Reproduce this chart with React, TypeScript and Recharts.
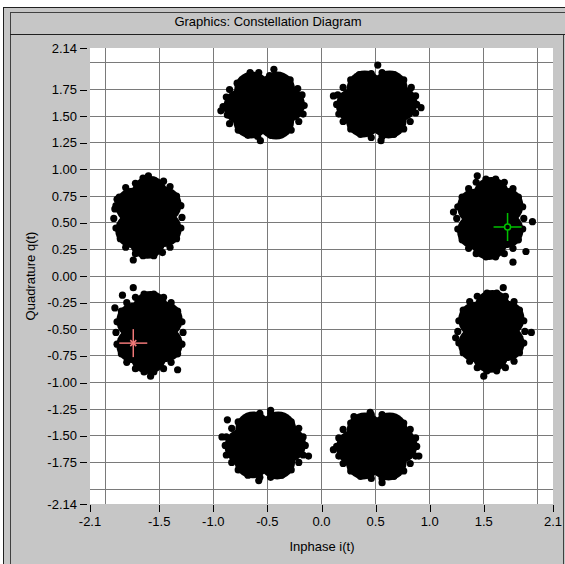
import React from 'react';
import { ScatterChart, Scatter, XAxis, YAxis, CartesianGrid } from 'recharts';

type Pt = [number, number];

// each blob = a few fat "core" points filling the dense middle + loose rim dots (i, q)
const coreTL: Pt[] = [[-0.53, 1.6], [-0.32, 1.61], [-0.41, 1.75], [-0.64, 1.75], [-0.74, 1.59], [-0.65, 1.46], [-0.42, 1.45]];
const rimTL: Pt[] = [
  [-0.16, 1.6], [-0.18, 1.7], [-0.22, 1.76], [-0.29, 1.84], [-0.37, 1.87], [-0.48, 1.88], [-0.58, 1.91], [-0.69, 1.87],
  [-0.78, 1.81], [-0.85, 1.75], [-0.88, 1.68], [-0.91, 1.59], [-0.87, 1.51], [-0.85, 1.43], [-0.77, 1.37], [-0.68, 1.32],
  [-0.59, 1.31], [-0.47, 1.32], [-0.38, 1.33], [-0.28, 1.37], [-0.21, 1.45], [-0.17, 1.52],
  [-0.44, 1.94], [-0.565, 1.27], [-0.93, 1.55], [-0.66, 1.91],
];

const coreTR: Pt[] = [[0.51, 1.61], [0.72, 1.62], [0.63, 1.76], [0.4, 1.76], [0.3, 1.6], [0.39, 1.47], [0.62, 1.46]];
const rimTR: Pt[] = [
  [0.88, 1.61], [0.87, 1.69], [0.83, 1.77], [0.76, 1.84], [0.67, 1.89], [0.56, 1.91], [0.46, 1.9], [0.35, 1.89],
  [0.27, 1.84], [0.2, 1.77], [0.15, 1.7], [0.14, 1.61], [0.16, 1.52], [0.2, 1.45], [0.27, 1.38], [0.36, 1.33],
  [0.46, 1.3], [0.56, 1.31], [0.67, 1.33], [0.76, 1.38], [0.82, 1.45], [0.87, 1.53],
  [0.52, 1.98], [0.11, 1.69], [0.55, 1.27], [0.92, 1.58],
];

const coreLU: Pt[] = [[-1.6, 0.55], [-1.59, 0.77], [-1.46, 0.67], [-1.46, 0.44], [-1.61, 0.33], [-1.74, 0.43], [-1.74, 0.66]];
const rimLU: Pt[] = [
  [-1.29, 0.55], [-1.3, 0.66], [-1.34, 0.75], [-1.4, 0.84], [-1.46, 0.89], [-1.55, 0.9], [-1.65, 0.92], [-1.72, 0.87],
  [-1.81, 0.83], [-1.87, 0.74], [-1.9, 0.66], [-1.92, 0.54], [-1.9, 0.45], [-1.86, 0.35], [-1.81, 0.27], [-1.72, 0.21],
  [-1.65, 0.19], [-1.55, 0.19], [-1.47, 0.22], [-1.4, 0.27], [-1.34, 0.35], [-1.3, 0.45],
  [-1.89, 0.72], [-1.91, 0.63], [-1.6, 0.94], [-1.74, 0.15],
];

const coreLL: Pt[] = [[-1.59, -0.53], [-1.58, -0.31], [-1.45, -0.41], [-1.45, -0.64], [-1.6, -0.75], [-1.73, -0.65], [-1.73, -0.42]];
const rimLL: Pt[] = [
  [-1.28, -0.53], [-1.29, -0.43], [-1.33, -0.33], [-1.39, -0.25], [-1.46, -0.2], [-1.55, -0.17], [-1.64, -0.17], [-1.72, -0.2],
  [-1.8, -0.25], [-1.85, -0.33], [-1.89, -0.43], [-1.9, -0.53], [-1.89, -0.64], [-1.85, -0.73], [-1.8, -0.81], [-1.72, -0.87],
  [-1.64, -0.9], [-1.55, -0.9], [-1.46, -0.87], [-1.39, -0.81], [-1.33, -0.73], [-1.29, -0.64],
  [-1.84, -0.18], [-1.91, -0.3], [-1.33, -0.88], [-1.58, -0.94], [-1.74, -0.11],
];

const coreRU: Pt[] = [[1.56, 0.54], [1.57, 0.76], [1.7, 0.66], [1.7, 0.43], [1.55, 0.32], [1.42, 0.42], [1.42, 0.65]];
const rimRU: Pt[] = [
  [1.87, 0.54], [1.86, 0.65], [1.82, 0.74], [1.77, 0.82], [1.69, 0.88], [1.61, 0.91], [1.52, 0.91], [1.43, 0.88],
  [1.36, 0.82], [1.3, 0.74], [1.26, 0.65], [1.25, 0.54], [1.26, 0.44], [1.3, 0.34], [1.36, 0.26], [1.43, 0.21],
  [1.52, 0.18], [1.61, 0.18], [1.69, 0.21], [1.77, 0.26], [1.82, 0.34], [1.86, 0.44],
  [1.22, 0.6], [1.89, 0.23], [1.77, 0.13], [1.95, 0.51], [1.44, 0.94],
];

const coreRL: Pt[] = [[1.57, -0.52], [1.58, -0.3], [1.71, -0.4], [1.71, -0.63], [1.56, -0.74], [1.43, -0.64], [1.43, -0.41]];
const rimRL: Pt[] = [
  [1.88, -0.52], [1.87, -0.42], [1.83, -0.32], [1.78, -0.24], [1.7, -0.19], [1.62, -0.16], [1.53, -0.16], [1.44, -0.19],
  [1.37, -0.24], [1.31, -0.32], [1.27, -0.42], [1.26, -0.52], [1.27, -0.63], [1.31, -0.72], [1.37, -0.8], [1.44, -0.86],
  [1.53, -0.89], [1.62, -0.89], [1.7, -0.86], [1.78, -0.8], [1.83, -0.72], [1.87, -0.63],
  [1.24, -0.58], [1.94, -0.53], [1.5, -0.94], [1.68, -0.11],
];

const coreBL: Pt[] = [[-0.52, -1.59], [-0.31, -1.58], [-0.4, -1.44], [-0.63, -1.44], [-0.73, -1.6], [-0.64, -1.73], [-0.41, -1.74]];
const rimBL: Pt[] = [
  [-0.15, -1.59], [-0.17, -1.51], [-0.21, -1.43], [-0.28, -1.37], [-0.37, -1.32], [-0.47, -1.29], [-0.57, -1.29], [-0.68, -1.32],
  [-0.77, -1.37], [-0.83, -1.43], [-0.88, -1.51], [-0.89, -1.59], [-0.88, -1.68], [-0.83, -1.75], [-0.77, -1.82], [-0.68, -1.87],
  [-0.57, -1.89], [-0.47, -1.89], [-0.37, -1.87], [-0.28, -1.82], [-0.21, -1.75], [-0.17, -1.68],
  [-0.87, -1.35], [-0.92, -1.51], [-0.12, -1.69], [-0.47, -1.26], [-0.58, -1.92],
];

const coreBR: Pt[] = [[0.51, -1.6], [0.72, -1.59], [0.63, -1.45], [0.4, -1.45], [0.3, -1.61], [0.39, -1.74], [0.62, -1.75]];
const rimBR: Pt[] = [
  [0.88, -1.6], [0.87, -1.52], [0.82, -1.44], [0.76, -1.38], [0.67, -1.33], [0.56, -1.3], [0.46, -1.3], [0.36, -1.33],
  [0.27, -1.38], [0.2, -1.44], [0.16, -1.52], [0.14, -1.6], [0.16, -1.69], [0.2, -1.76], [0.27, -1.83], [0.36, -1.88],
  [0.46, -1.9], [0.56, -1.9], [0.67, -1.88], [0.76, -1.83], [0.82, -1.76], [0.87, -1.69],
  [0.11, -1.63], [0.56, -1.94], [0.9, -1.69], [0.3, -1.32], [0.45, -1.28],
];

// the two cursors
const cursorRed: Pt[] = [[-1.74, -0.63]];
const cursorGreen: Pt[] = [[1.72, 0.46]];

const X_TICKS = [-2.14, -1.5, -1, -0.5, 0, 0.5, 1, 1.5, 2.14];
const Y_TICKS = [-2.14, -1.75, -1.5, -1.25, -1, -0.75, -0.5, -0.25, 0, 0.25, 0.5, 0.75, 1, 1.25, 1.5, 1.75, 2.14];
const GRID_I = [-2, -1.5, -1, -0.5, 0, 0.5, 1, 1.5, 2];
const GRID_Q = [-2, -1.75, -1.5, -1.25, -1, -0.75, -0.5, -0.25, 0, 0.25, 0.5, 0.75, 1, 1.25, 1.5, 1.75, 2];

const FONT = '"Liberation Sans", Arial, sans-serif';
const GRAY = '#c6c6c6';

const toPts = (arr: Pt[]) => arr.map(([i, q]) => ({ i, q }));
const coreData = toPts([...coreTL, ...coreTR, ...coreLU, ...coreLL, ...coreRU, ...coreRL, ...coreBL, ...coreBR]);
const rimData = toPts([...rimTL, ...rimTR, ...rimLU, ...rimLL, ...rimRU, ...rimRL, ...rimBL, ...rimBR]);

const XTick = ({ x, y, payload }: any) => (
  <g>
    <line x1={Math.round(x) + 0.5} x2={Math.round(x) + 0.5} y1={y + 1} y2={y + 8} stroke="#000" />
    <text x={x} y={y + 22} textAnchor="middle" fontSize={13} fontFamily={FONT} fill="#000">
      {Number(payload.value).toFixed(1)}
    </text>
  </g>
);

const YTick = ({ x, y, payload }: any) => (
  <g>
    <line x1={x - 10} x2={x - 3} y1={Math.round(y) + 0.5} y2={Math.round(y) + 0.5} stroke="#000" />
    <text x={x - 13} y={y + 4.5} textAnchor="end" fontSize={13} fontFamily={FONT} fill="#000">
      {Number(payload.value).toFixed(2)}
    </text>
  </g>
);

const dot = (r: number) => (p: any) => <circle cx={p.cx} cy={p.cy} r={r} fill="#000" />;

const RedCursor = (p: any) => {
  const { cx, cy } = p;
  const c = '#f07878';
  return (
    <g stroke={c} strokeWidth={1.5}>
      <line x1={cx - 14} x2={cx + 14} y1={cy} y2={cy} />
      <line x1={cx} x2={cx} y1={cy - 14} y2={cy + 14} />
      <line x1={cx - 3} x2={cx + 3} y1={cy - 3} y2={cy + 3} />
      <line x1={cx - 3} x2={cx + 3} y1={cy + 3} y2={cy - 3} />
    </g>
  );
};

const GreenCursor = (p: any) => {
  const { cx, cy } = p;
  const c = '#00c000';
  return (
    <g stroke={c} strokeWidth={1.5} fill="none">
      <circle cx={cx} cy={cy} r={3} />
      <line x1={cx - 14} x2={cx - 3} y1={cy} y2={cy} />
      <line x1={cx + 3} x2={cx + 14} y1={cy} y2={cy} />
      <line x1={cx} x2={cx} y1={cy - 14} y2={cy - 3} />
      <line x1={cx} x2={cx} y1={cy + 3} y2={cy + 14} />
    </g>
  );
};

export default function App() {
  return (
    <div style={{ position: 'absolute', left: 0, top: 0, width: 565, height: 564, background: GRAY, fontFamily: FONT }}>
      {/* window frame + title bar + axis titles */}
      <svg width={565} height={564} style={{ position: 'absolute', left: 0, top: 0 }}>
        <rect x={0} y={0} width={565} height={7} fill="#fff" />
        <rect x={0} y={0} width={3} height={564} fill="#fff" />
        <line x1={3} x2={565} y1={7.5} y2={7.5} stroke="#202020" />
        <line x1={3.5} x2={3.5} y1={7} y2={564} stroke="#202020" />
        <line x1={10.5} x2={10.5} y1={12} y2={564} stroke="#404040" />
        <line x1={10} x2={565} y1={12.5} y2={12.5} stroke="#404040" />
        <line x1={10} x2={565} y1={34.5} y2={34.5} stroke="#202020" />
        <line x1={563.5} x2={563.5} y1={35} y2={564} stroke="#404040" />
        <text x={268} y={26} textAnchor="middle" fontSize={13} fontFamily={FONT} fill="#000">
          Graphics: Constellation Diagram
        </text>
        <text x={322} y={551} textAnchor="middle" fontSize={13} fontFamily={FONT} fill="#000">
          Inphase i(t)
        </text>
        <text x={35} y={276} textAnchor="middle" fontSize={13} fontFamily={FONT} fill="#000" transform="rotate(-90 35 276)">
          Quadrature q(t)
        </text>
      </svg>
      <div style={{ position: 'absolute', left: 0, top: 0 }}>
        <ScatterChart width={565} height={564} margin={{ top: 48, right: 12, bottom: 0, left: 0 }}>
          <CartesianGrid
            stroke="#7a7a7a"
            fill="#ffffff"
            fillOpacity={1}
            shapeRendering="crispEdges"
            verticalValues={GRID_I}
            horizontalValues={GRID_Q}
          />
          <XAxis
            type="number"
            dataKey="i"
            domain={[-2.14, 2.14]}
            ticks={X_TICKS}
            interval={0}
            allowDataOverflow
            height={60}
            axisLine={false}
            tickLine={false}
            tickSize={0}
            tickMargin={0}
            tick={<XTick />}
          />
          <YAxis
            type="number"
            dataKey="q"
            domain={[-2.14, 2.14]}
            ticks={Y_TICKS}
            interval={0}
            allowDataOverflow
            width={90}
            axisLine={false}
            tickLine={false}
            tickSize={0}
            tickMargin={0}
            tick={<YTick />}
          />
          <Scatter data={coreData} shape={dot(18)} isAnimationActive={false} />
          <Scatter data={rimData} shape={dot(3.6)} isAnimationActive={false} />
          <Scatter data={toPts(cursorRed)} shape={RedCursor} isAnimationActive={false} />
          <Scatter data={toPts(cursorGreen)} shape={GreenCursor} isAnimationActive={false} />
        </ScatterChart>
      </div>
    </div>
  );
}
